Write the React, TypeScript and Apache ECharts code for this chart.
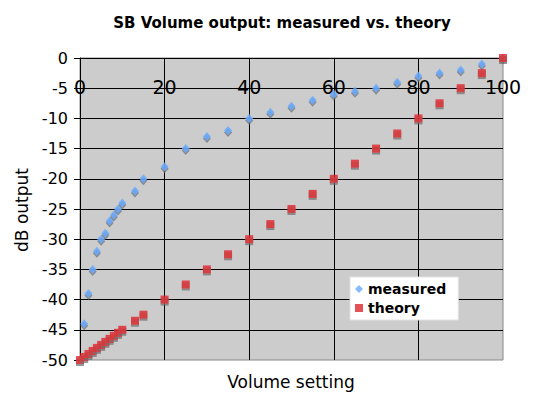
import React, { useEffect, useRef } from "react";
import * as echarts from "echarts";

const titleText = "SB Volume output: measured vs. theory";
const xAxisTitle = "Volume setting";
const yAxisTitle = "dB output";

const measuredX = [1, 2, 3, 4, 5, 6, 7, 8, 9, 10, 13, 15, 20, 25, 30, 35, 40, 45, 50, 55, 60, 65, 70, 75, 80, 85, 90, 95, 100];
const measuredDb = [-44, -39, -35, -32, -30, -29, -27, -26, -25, -24, -22, -20, -18, -15, -13, -12, -10, -9, -8, -7, -6, -5.5, -5, -4, -3, -2.5, -2, -1, 0];

const theoryX = [0, 1, 2, 3, 4, 5, 6, 7, 8, 9, 10, 13, 15, 20, 25, 30, 35, 40, 45, 50, 55, 60, 65, 70, 75, 80, 85, 90, 95, 100];
const theoryDb = [-50, -49.5, -49, -48.5, -48, -47.5, -47, -46.5, -46, -45.5, -45, -43.5, -42.5, -40, -37.5, -35, -32.5, -30, -27.5, -25, -22.5, -20, -17.5, -15, -12.5, -10, -7.5, -5, -2.5, 0];

const FONT = "DejaVu Sans";

export default function App() {
  const ref = useRef<HTMLDivElement>(null);
  useEffect(() => {
    if (!ref.current) return;
    const chart = echarts.init(ref.current, undefined, { renderer: "svg" });
    const shadow = {
      shadowColor: "rgba(110,110,110,0.9)",
      shadowBlur: 0,
      shadowOffsetX: 0,
      shadowOffsetY: 2,
    };
    chart.setOption({
      animation: false,
      backgroundColor: "#ffffff",
      title: {
        text: titleText,
        left: 277,
        top: 10,
        textAlign: "center",
        textStyle: { fontFamily: FONT, fontWeight: "bold", fontSize: 15, color: "#000" },
      },
      grid: {
        left: 80,
        right: 30,
        top: 58,
        bottom: 38,
        show: true,
        backgroundColor: "#cccccc",
        borderColor: "#888888",
        borderWidth: 1,
      },
      legend: {
        orient: "vertical",
        left: 350,
        top: 277,
        backgroundColor: "#ffffff",
        borderColor: "#e2e2e2",
        borderWidth: 1,
        padding: [5, 12, 5, 5],
        itemGap: 5,
        itemWidth: 8,
        itemHeight: 8,
        textStyle: { fontFamily: FONT, fontWeight: "bold", fontSize: 14, color: "#000" },
        data: [
          { name: "measured", icon: "diamond" },
          { name: "theory", icon: "rect" },
        ],
      },
      xAxis: {
        type: "value",
        min: 0,
        max: 100,
        interval: 20,
        position: "top",
        axisLine: { show: true, onZero: false, lineStyle: { color: "#000", width: 1 } },
        axisTick: { show: false },
        axisLabel: { inside: true, margin: 19, fontFamily: FONT, fontSize: 19, color: "#000" },
        splitLine: { show: true, showMinLine: false, showMaxLine: false, lineStyle: { color: "#000", width: 1 } },
      },
      yAxis: {
        type: "value",
        min: -50,
        max: 0,
        interval: 5,
        axisLine: { show: true, onZero: false, lineStyle: { color: "#000", width: 1 } },
        axisTick: { show: true, length: 6, lineStyle: { color: "#000" } },
        axisLabel: { margin: 12, fontFamily: FONT, fontSize: 16, color: "#000" },
        splitLine: { show: true, showMinLine: false, showMaxLine: false, lineStyle: { color: "#000", width: 1 } },
      },
      graphic: [
        {
          type: "text",
          x: 291,
          y: 382,
          style: {
            text: xAxisTitle,
            fontFamily: FONT,
            fontSize: 17,
            fill: "#000",
            textAlign: "center",
            textVerticalAlign: "middle",
          },
        },
        {
          type: "text",
          x: 22,
          y: 210,
          rotation: Math.PI / 2,
          style: {
            text: yAxisTitle,
            fontFamily: FONT,
            fontSize: 17,
            fill: "#000",
            textAlign: "center",
            textVerticalAlign: "middle",
          },
        },
      ],
      series: [
        {
          name: "measured",
          type: "scatter",
          symbol: "diamond",
          symbolSize: [8, 9],
          itemStyle: { color: "#66aaff", ...shadow },
          data: measuredX.map((x, i) => [x, measuredDb[i]]),
        },
        {
          name: "theory",
          type: "scatter",
          symbol: "rect",
          symbolSize: 8,
          itemStyle: { color: "#e0262e", ...shadow },
          data: theoryX.map((x, i) => [x, theoryDb[i]]),
        },
      ],
    });
    return () => chart.dispose();
  }, []);
  return (
    <div
      ref={ref}
      style={{ position: "fixed", left: 0, top: 0, width: 533, height: 398 }}
    />
  );
}
